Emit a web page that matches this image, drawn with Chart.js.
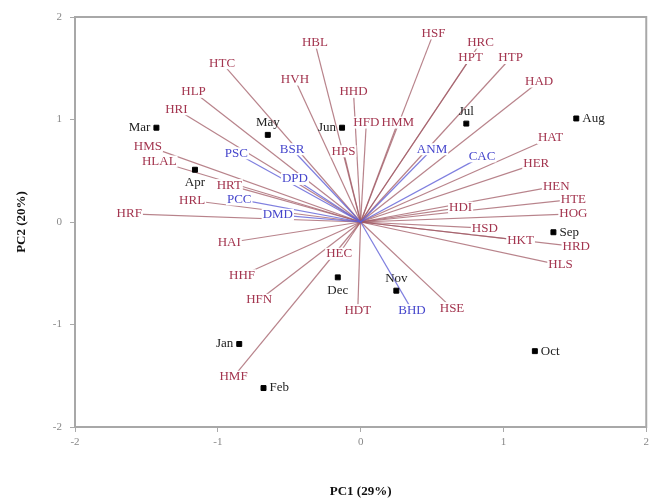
<!DOCTYPE html>
<html>
<head>
<meta charset="utf-8">
<script src="https://cdn.jsdelivr.net/npm/chart.js@4"></script>
<style>
  body { margin: 0; background: #fff; }
  #wrap { width: 653px; height: 499px; }
</style>
</head>
<body>
<div id="wrap"><canvas id="biplot"></canvas></div>
<script>
// scores (months)
const months = ["Mar", "May", "Jun", "Jul", "Aug", "Apr", "Sep", "Dec", "Nov", "Oct", "Jan", "Feb"];
const monthX = [-1.43, -0.65, -0.13, 0.74, 1.51, -1.16, 1.35, -0.16, 0.25, 1.22, -0.85, -0.68];
const monthY = [0.92, 0.85, 0.92, 0.96, 1.01, 0.51, -0.10, -0.54, -0.67, -1.26, -1.19, -1.62];
const monthSide = ["left", "top", "left", "top", "right", "bottom", "right", "bottom", "top", "right", "left", "right"];

// loadings, red group
const hNames = ["HBL", "HSF", "HRC", "HPT", "HTP", "HAD", "HTC", "HVH", "HLP", "HRI", "HHD", "HFD", "HMM", "HPS",
  "HMS", "HLAL", "HRT", "HRL", "HRF", "HAI", "HHF", "HFN", "HMF", "HEC", "HDT", "HSE",
  "HAT", "HER", "HEN", "HTE", "HOG", "HKT", "HRD", "HLS", "HSD", "HDI"];
const hX = [-0.32, 0.51, 0.84, 0.77, 1.05, 1.25, -0.97, -0.46, -1.17, -1.29, -0.05, 0.04, 0.26, -0.12,
  -1.49, -1.41, -0.92, -1.18, -1.62, -0.92, -0.83, -0.71, -0.89, -0.15, -0.02, 0.64,
  1.33, 1.23, 1.37, 1.49, 1.49, 1.12, 1.51, 1.40, 0.87, 0.70];
const hY = [1.75, 1.84, 1.75, 1.60, 1.60, 1.37, 1.55, 1.39, 1.27, 1.10, 1.27, 0.97, 0.97, 0.69,
  0.74, 0.59, 0.36, 0.21, 0.08, -0.20, -0.52, -0.76, -1.51, -0.31, -0.86, -0.84,
  0.82, 0.57, 0.35, 0.22, 0.08, -0.18, -0.24, -0.42, -0.06, 0.14];

// loadings, blue group
const bNames = ["PSC", "BSR", "DPD", "PCC", "DMD", "ANM", "CAC", "BHD"];
const bX = [-0.87, -0.48, -0.46, -0.85, -0.58, 0.50, 0.85, 0.36];
const bY = [0.67, 0.71, 0.42, 0.22, 0.07, 0.71, 0.64, -0.86];

const axisTicks = [-2, -1, 0, 1, 2];

const RED = "#a3354f";
const BLUE = "#4646cc";
const FONT = "'Liberation Serif', 'DejaVu Serif', serif";

const datasets = [];
datasets.push({
  label: "months",
  data: months.map((m, i) => ({ x: monthX[i], y: monthY[i] })),
  pointStyle: "rect",
  pointRadius: 3.5,
  backgroundColor: "#000",
  borderColor: "#000",
  order: 0,
});
hNames.forEach((n, i) => {
  datasets.push({
    label: n,
    data: [{ x: 0, y: 0 }, { x: hX[i], y: hY[i] }],
    showLine: true,
    pointRadius: 0,
    borderWidth: 1.2,
    borderColor: "rgba(160,90,100,0.75)",
    order: 2,
  });
});
bNames.forEach((n, i) => {
  datasets.push({
    label: n,
    data: [{ x: 0, y: 0 }, { x: bX[i], y: bY[i] }],
    showLine: true,
    pointRadius: 0,
    borderWidth: 1.2,
    borderColor: "rgba(95,95,215,0.8)",
    order: 1,
  });
});

const labelPlugin = {
  id: "labels",
  afterDatasetsDraw(chart) {
    const ctx = chart.ctx;
    const xs = chart.scales.x, ys = chart.scales.y;
    ctx.save();
    ctx.font = "13px " + FONT;
    ctx.textBaseline = "middle";
    ctx.textAlign = "center";
    const drawVar = (name, x, y, color) => {
      const px = xs.getPixelForValue(x), py = ys.getPixelForValue(y);
      const w = ctx.measureText(name).width;
      ctx.fillStyle = "#fff";
      ctx.fillRect(px - w / 2 - 1, py - 6, w + 2, 12);
      ctx.fillStyle = color;
      ctx.fillText(name, px, py);
    };
    hNames.forEach((n, i) => drawVar(n, hX[i], hY[i], RED));
    bNames.forEach((n, i) => drawVar(n, bX[i], bY[i], BLUE));

    ctx.fillStyle = "#222";
    months.forEach((m, i) => {
      const px = xs.getPixelForValue(monthX[i]), py = ys.getPixelForValue(monthY[i]);
      const s = monthSide[i];
      if (s === "left") { ctx.textAlign = "right"; ctx.fillText(m, px - 6, py); }
      else if (s === "right") { ctx.textAlign = "left"; ctx.fillText(m, px + 6, py); }
      else if (s === "top") { ctx.textAlign = "center"; ctx.fillText(m, px, py - 12); }
      else { ctx.textAlign = "center"; ctx.fillText(m, px, py + 13); }
    });
    ctx.restore();
  },
  afterDraw(chart) {
    const a = chart.chartArea, ctx = chart.ctx;
    ctx.save();
    ctx.strokeStyle = "#a8a8a8";
    ctx.lineWidth = 2;
    ctx.strokeRect(a.left, a.top, a.right - a.left, a.bottom - a.top);
    ctx.restore();
  },
};

new Chart(document.getElementById("biplot"), {
  type: "scatter",
  data: { datasets },
  plugins: [labelPlugin],
  options: {
    responsive: true,
    maintainAspectRatio: false,
    animation: false,
    layout: { padding: { top: 17, right: 0, left: 0, bottom: 0 } },
    plugins: { legend: { display: false }, tooltip: { enabled: false } },
    scales: {
      x: {
        min: -2, max: 2,
        afterBuildTicks: (s) => { s.ticks = axisTicks.map((v) => ({ value: v })); },
        afterFit: (s) => { s.height = 72; },
        grid: { display: true, drawOnChartArea: false, tickLength: 5, color: "#aaa" },
        border: { display: false },
        ticks: { color: "#888", font: { family: FONT, size: 11 }, padding: 4 },
        title: { display: true, text: "PC1 (29%)", color: "#111", font: { family: FONT, size: 13, weight: "bold" }, padding: { top: 28, bottom: 0 } },
      },
      y: {
        min: -2, max: 2,
        afterBuildTicks: (s) => { s.ticks = axisTicks.map((v) => ({ value: v })); },
        afterFit: (s) => { s.width = 75; },
        grid: { display: true, drawOnChartArea: false, tickLength: 5, color: "#aaa" },
        border: { display: false },
        ticks: { color: "#888", font: { family: FONT, size: 11 }, padding: 8 },
        title: { display: true, text: "PC2 (20%)", color: "#111", font: { family: FONT, size: 13, weight: "bold" }, padding: { bottom: 0, top: 14 } },
      },
    },
  },
});
</script>
</body>
</html>
